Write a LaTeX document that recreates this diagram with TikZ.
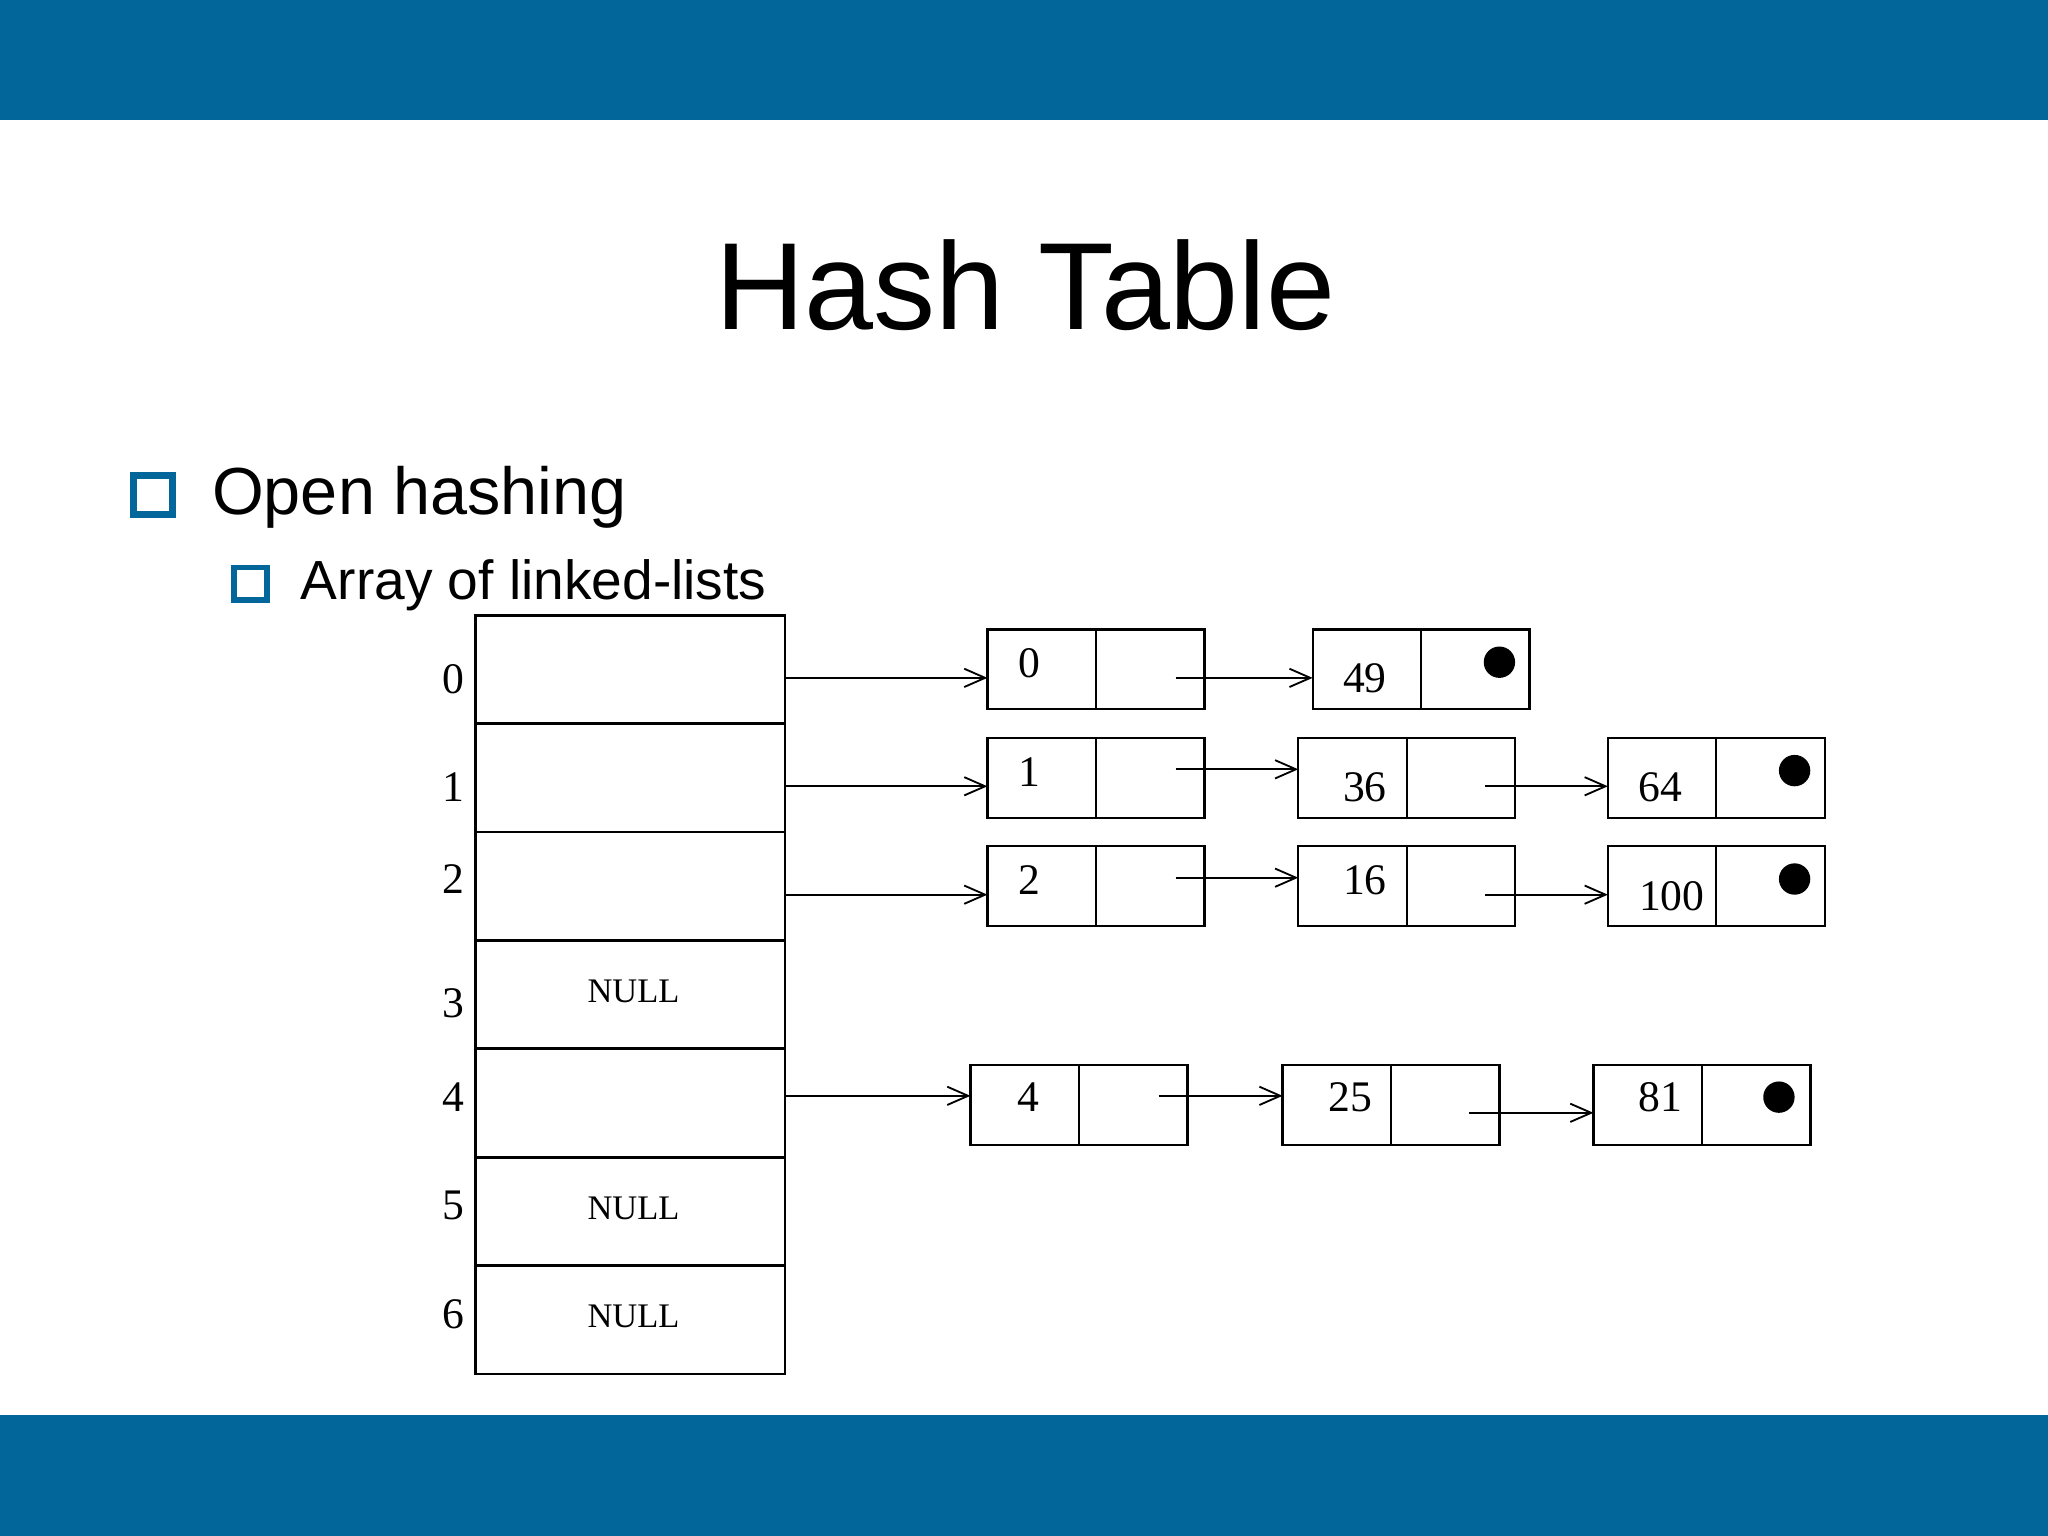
\documentclass[tikz,border=0pt]{standalone}
\usepackage{fontspec}
\setmainfont{Liberation Serif}
\newfontfamily\sans{Liberation Sans}
\usetikzlibrary{arrows.meta}
\definecolor{barblue}{HTML}{02669B}
\begin{document}
\begin{tikzpicture}[x=0.01cm,y=-0.01cm,
  cell/.style={draw,line width=0.5pt,minimum width=0.83cm,minimum height=0.61cm,inner sep=0,outer sep=0},
  slot/.style={draw,line width=0.6pt,minimum width=2.37cm,minimum height=0.83cm,inner sep=0,outer sep=0},
  lab/.style={font=\fontsize{9.5}{10}\selectfont},
  nul/.style={font=\fontsize{7.5}{8}\selectfont},
  ptr/.style={line width=0.4pt,-{Straight Barb[length=1.6mm,width=1.4mm]}},
  dot/.style={circle,fill=black,inner sep=0,minimum size=0.24cm}]
\useasboundingbox (0,0) rectangle (1568,1176);
\fill[barblue] (0,0) rectangle (1568,92);
\fill[barblue] (0,1083) rectangle (1568,1176);
\node[font=\sans\fontsize{27}{30}\selectfont] (title) at (785,218) {Hash Table};
\node[draw=barblue,line width=1.6pt,minimum size=0.3cm,inner sep=0] (b1) at (117,379) {};
\node[anchor=west,font=\sans\fontsize{14.5}{16}\selectfont] (t1) at (150,381) {Open hashing};
\node[draw=barblue,line width=1.3pt,minimum size=0.25cm,inner sep=0] (b2) at (192,447) {};
\node[anchor=west,font=\sans\fontsize{12}{14}\selectfont] (t2) at (218,448) {Array of linked-lists};
% table
\foreach \i/\y in {0/512.5,1/595.5,2/678.5,3/761.5,4/844.5,5/927.5,6/1010.5}
  \node[slot] (s\i) at (482.5,\y) {};
\foreach \i/\y in {0/520,1/603,2/673,3/768,4/840,5/923,6/1006}
  \node[lab] (i\i) at (347,\y) {\i};
\node[nul] (n3) at (485,759) {NULL};
\node[nul] (n5) at (485,925) {NULL};
\node[nul] (n6) at (485,1008) {NULL};
% list nodes: name/left x/center y
\foreach \n/\x/\y in {a0/756/512.5,b0/1005/512.5,
  a1/756/595.5,b1/994/595.5,c1/1231/595.5,
  a2/756/678.5,b2/994/678.5,c2/1231/678.5,
  a4/743/846,b4/982/846,c4/1220/846}{
  \node[cell,anchor=west] (\n l) at (\x,\y) {};
  \node[cell,anchor=west] (\n r) at (\n l.east) {};}
\node[lab] at (788,508) {0};
\node[lab] at (1045,519) {49};
\node[dot] at (1148,507) {};
\node[lab] at (788,591) {1};
\node[lab] at (1045,603) {36};
\node[lab] at (1271,603) {64};
\node[dot] at (1374,590) {};
\node[lab] at (788,674) {2};
\node[lab] at (1045,674) {16};
\node[lab] at (1280,686) {100};
\node[dot] at (1374,673) {};
\node[lab] at (787,840) {4};
\node[lab] at (1034,840) {25};
\node[lab] at (1271,840) {81};
\node[dot] at (1362,840) {};
% array pointers
\draw[ptr] (s0.east |- 0,519) -- (a0l.west |- 0,519);
\draw[ptr] (s1.east |- 0,602) -- (a1l.west |- 0,602);
\draw[ptr] (s2.east |- 0,685) -- (a2l.west |- 0,685);
\draw[ptr] (s4.east |- 0,839) -- (a4l.west |- 0,839);
% next pointers
\coordinate (p0) at (900,519); \draw[ptr] (p0) -- (b0l.west |- p0);
\coordinate (p1) at (900,589); \draw[ptr] (p1) -- (b1l.west |- p1);
\coordinate (q1) at (1137,602); \draw[ptr] (q1) -- (c1l.west |- q1);
\coordinate (p2) at (900,672); \draw[ptr] (p2) -- (b2l.west |- p2);
\coordinate (q2) at (1137,685); \draw[ptr] (q2) -- (c2l.west |- q2);
\coordinate (p4) at (887,839); \draw[ptr] (p4) -- (b4l.west |- p4);
\coordinate (q4) at (1125,852); \draw[ptr] (q4) -- (c4l.west |- q4);
\end{tikzpicture}
\end{document}
